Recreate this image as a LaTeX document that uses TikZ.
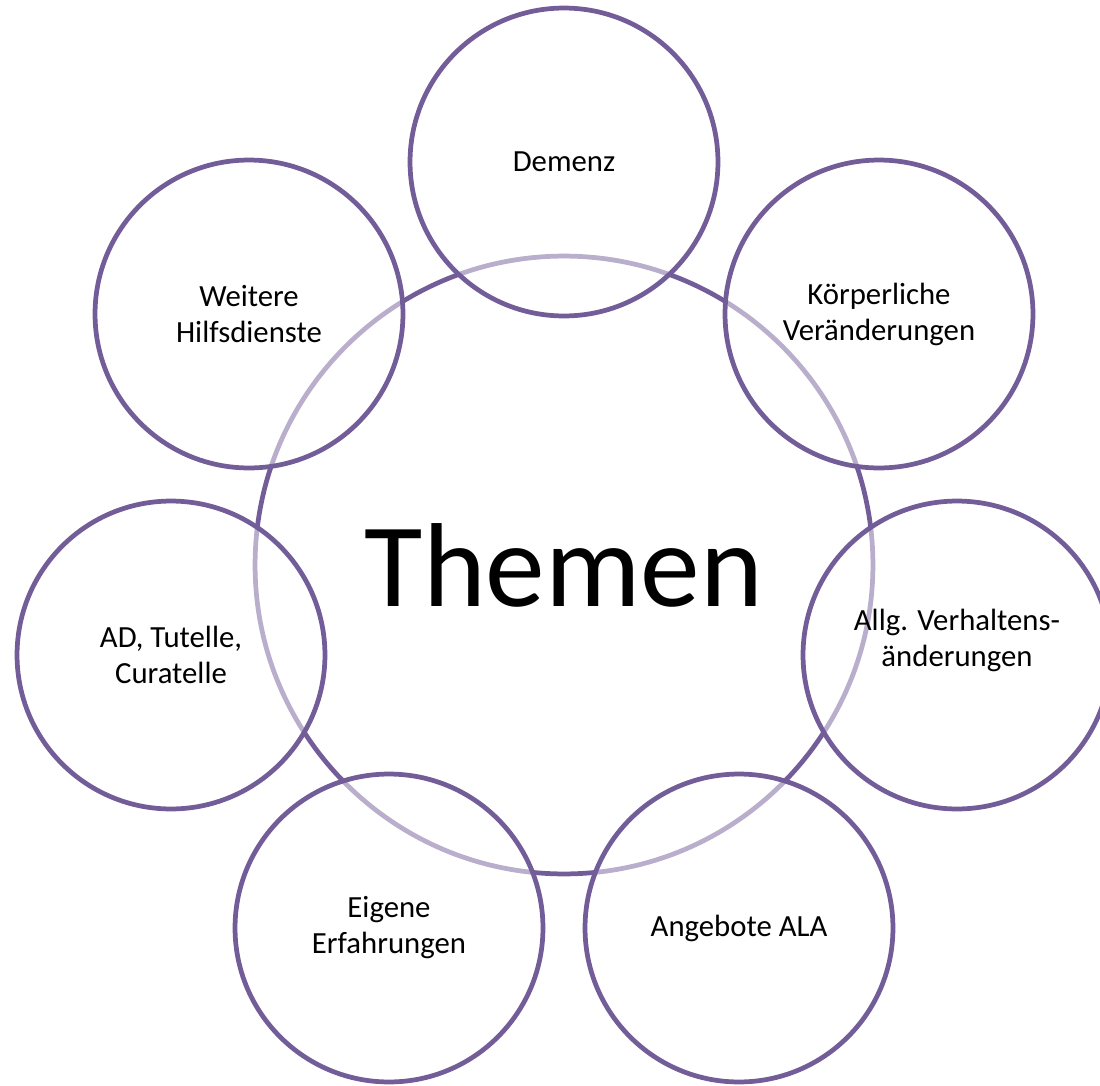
\documentclass[tikz,border=0pt]{standalone}
\usepackage{fontspec}
\setmainfont{Carlito}
\definecolor{themenlila}{RGB}{115,93,153}

\begin{document}
\begin{tikzpicture}
  [x=0.02cm,y=-0.02cm,
   mitte/.style={circle,draw=themenlila,line width=2.7pt,minimum size=12.36cm,inner sep=0pt,font=\fontsize{68}{80}\selectfont},
   thema/.style={circle,draw=themenlila,line width=2.7pt,fill=white,fill opacity=.5,text opacity=1,minimum size=6.16cm,inner sep=0pt,align=center,font=\fontsize{17.5}{20.5}\selectfont},
   themtext/.style={align=center,font=\fontsize{17.5}{20.5}\selectfont}]
  \useasboundingbox (0,0) rectangle (1100,1086);
  \clip (0,0) rectangle (1100,1086);

  \node[mitte] (themen) at (564,565) {Themen};

  \node[thema] (demenz)   at (564,162) {Demenz};
  \node[thema] (koerper)  at (879,314) {Körperliche\\Veränderungen};
  \node[thema] (verhalten) at (957,655) {};
  \node[themtext] (verhaltentxt) at (957,640) {Allg. Verhaltens-\\änderungen};
  \node[thema] (angebote) at (739,928) {Angebote ALA};
  \node[thema] (eigene)   at (389,928) {Eigene\\Erfahrungen};
  \node[thema] (tutelle)  at (171,655) {AD, Tutelle,\\Curatelle};
  \node[thema] (hilfe)    at (249,314) {Weitere\\Hilfsdienste};

\end{tikzpicture}
\end{document}
